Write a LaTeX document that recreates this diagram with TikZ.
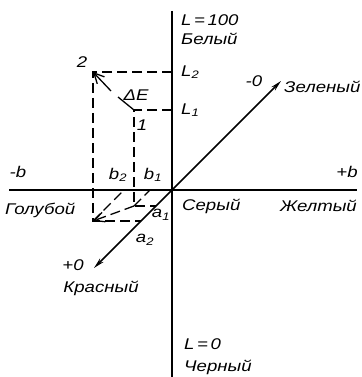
\documentclass[tikz,border=0pt]{standalone}
\usepackage{fontspec}
\setmainfont{Liberation Sans}[FakeStretch=1.2]
\usetikzlibrary{arrows.meta}
\begin{document}
\begin{tikzpicture}[x=1pt,y=-1pt,
  lbl/.style={font=\fontsize{15.5}{16}\selectfont\itshape, inner sep=0pt},
  axisline/.style={line width=1.5pt},
  dsh/.style={line width=1.3pt, dash pattern=on 10pt off 5pt},
  tipA/.style={-{Stealth[length=11pt,width=5pt]}},
  tipB/.style={-{Straight Barb[length=10pt,width=10pt,line width=1.3pt]}}]
\useasboundingbox (0,0) rectangle (361,377);
% axes
\coordinate (O) at (172,190);
\coordinate (Ltop) at (172,11);
\coordinate (Lbot) at (172,377);
\coordinate (bl) at (9,190);
\coordinate (br) at (357,190);
\coordinate (aminus) at (281,81);
\coordinate (aplus) at (94,268);
\draw[axisline] (Ltop) -- (Lbot);
\draw[axisline] (bl) -- (br);
\draw[axisline,tipA] (O) -- (aminus);
\draw[axisline,tipA] (O) -- (aplus);
% points
\coordinate (P2) at (93,72);
\coordinate (P1) at (134,110);
\coordinate (L2) at (172,72);
\coordinate (L1) at (172,110);
\coordinate (Q2) at (93,221);
\coordinate (Q1) at (134,206);
\coordinate (A2) at (141,221);
\coordinate (A1) at (156,206);
\coordinate (B2) at (124,190);
\coordinate (B1) at (150,190);
\coordinate (g1) at (118,97);
\coordinate (g2) at (111,91);
\draw[dsh] (L2) -- (P2) -- (Q2) -- (A2);
\draw[dsh] (L1) -- (P1) -- (Q1) -- (A1);
\draw[dsh] (Q2) -- (B2);
\draw[dsh] (Q1) -- (B1);
\draw[dsh,tipB] (Q1) -- (Q2);
\draw[line width=1.3pt] (P1) -- (g1);
\draw[line width=1.3pt,tipB] (g2) -- (P2);
% labels
\node[lbl,anchor=west] (t100) at (181,20) {L\,=\,100};
\node[lbl,anchor=west] (tbel) at (181,39) {Белый};
\node[lbl,anchor=west] (tL2) at (181,72) {L\textsubscript{2}};
\node[lbl,anchor=west] (tL1) at (181,110) {L\textsubscript{1}};
\node[lbl] (t2) at (82,62) {2};
\node[lbl] (t1) at (142,125) {1};
\node[lbl] (tdE) at (136,95) {ΔE};
\node[lbl] (tmb) at (18,172) {-b};
\node[lbl] (tpb) at (347,172) {+b};
\node[lbl] (tb2) at (118,175) {b\textsubscript{2}};
\node[lbl] (tb1) at (153,175) {b\textsubscript{1}};
\node[lbl,anchor=west] (tgol) at (5,210) {Голубой};
\node[lbl,anchor=west] (tser) at (182,206) {Серый};
\node[lbl,anchor=east] (tzh) at (357,206) {Желтый};
\node[lbl] (ta1) at (161,215) {a\textsubscript{1}};
\node[lbl] (ta2) at (145,240) {a\textsubscript{2}};
\node[lbl] (tp0) at (73,265) {+0};
\node[lbl] (tkr) at (101,288) {Красный};
\node[lbl] (tm0) at (254,81) {-0};
\node[lbl,anchor=west] (tzel) at (284,87) {Зеленый};
\node[lbl,anchor=west] (tL0) at (184,344) {L\,=\,0};
\node[lbl,anchor=west] (tchr) at (184,367) {Черный};
\end{tikzpicture}
\end{document}
